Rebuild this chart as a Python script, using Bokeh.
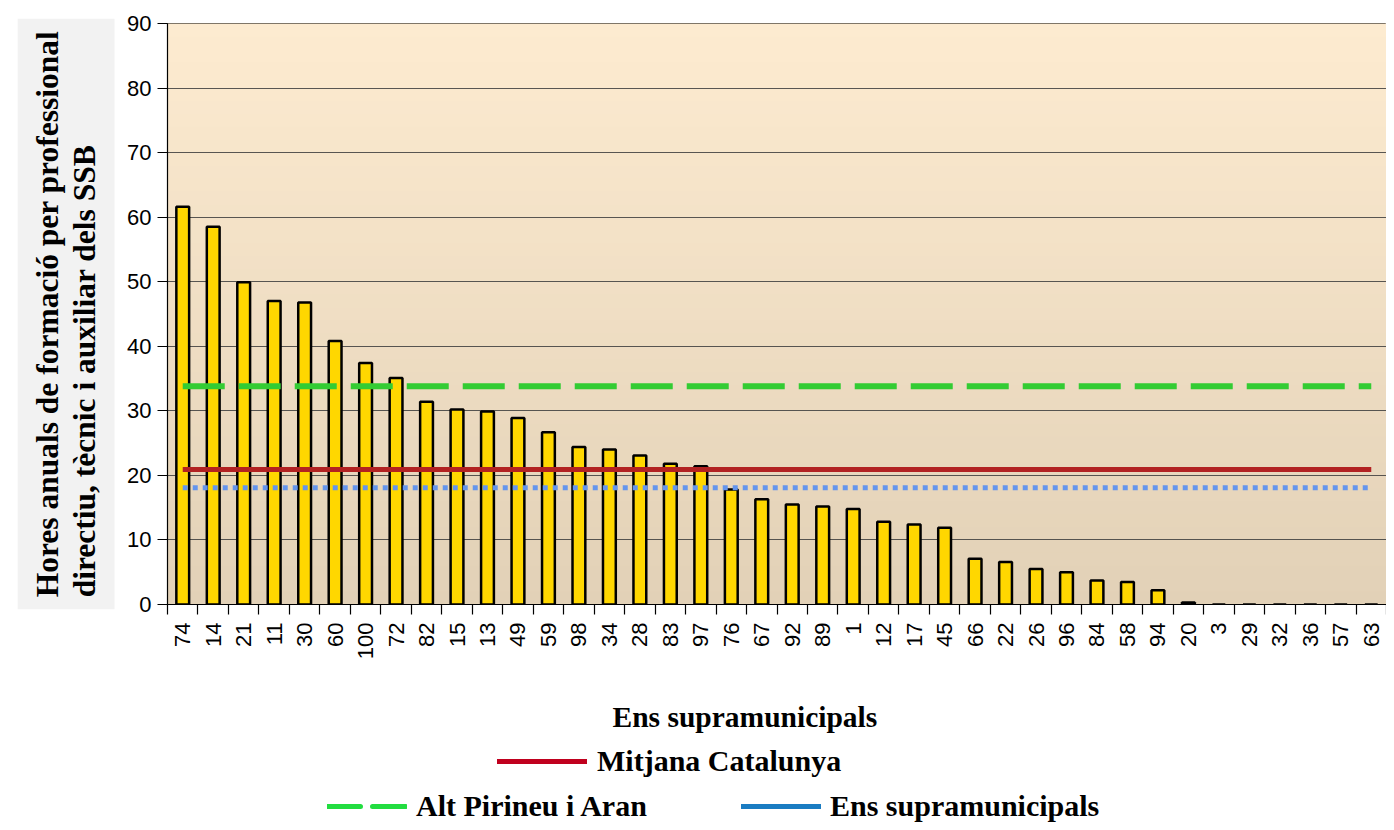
import math
from bokeh.plotting import figure
from bokeh.layouts import column
from bokeh.models import (ColumnDataSource, Range1d, LinearAxis, FixedTicker, Title, Legend,
                          LegendItem, BoxAnnotation, Label)
from bokeh.embed import file_html
from bokeh.resources import INLINE

# ---------------- data ----------------
categories = ["74", "14", "21", "11", "30", "60", "100", "72", "82", "15", "13", "49", "59", "98",
              "34", "28", "83", "97", "76", "67", "92", "89", "1", "12", "17", "45", "66", "22",
              "26", "96", "84", "58", "94", "20", "3", "29", "32", "36", "57", "63"]
values = [61.6, 58.5, 49.9, 47.0, 46.8, 40.8, 37.4, 35.1, 31.4, 30.2, 29.9, 28.9, 26.7, 24.4,
          24.0, 23.1, 21.8, 21.4, 17.8, 16.3, 15.5, 15.2, 14.8, 12.8, 12.4, 11.9, 7.1, 6.6,
          5.5, 5.0, 3.7, 3.5, 2.2, 0.3, 0.0, 0.0, 0.0, 0.0, 0.0, 0.0]
mitjana_catalunya = 20.9
alt_pirineu_aran = 33.8
ens_supramunicipals = 18.1
y_ticks = [0, 10, 20, 30, 40, 50, 60, 70, 80, 90]

y_title = "Hores anuals de formació per professional\ndirectiu, tècnic i auxiliar dels SSB"
x_title = "Ens supramunicipals"
legend_labels = ["Mitjana Catalunya", "Alt Pirineu i Aran", "Ens supramunicipals"]

SERIF = "Liberation Serif"
SANS = "Liberation Sans"

n = len(categories)
pos = list(range(n))                      # category slots
bounds = [i - 0.5 for i in range(n + 1)]  # category boundaries (tick marks)

p = figure(frame_width=1219, frame_height=581, x_range=Range1d(-0.5, n - 0.5),
           y_range=Range1d(0, 90), output_backend="svg", toolbar_location=None,
           x_axis_location=None, min_border_left=167, min_border_top=23,
           min_border_right=0, min_border_bottom=62)
p.background_fill_color = "white"
p.border_fill_color = "white"
p.outline_line_color = "black"
p.outline_line_width = 1

# gradient background (bands)
top_c = (253, 235, 208)
bot_c = (226, 209, 183)
nb = 45
for i in range(nb):
    t = i / (nb - 1)
    c = tuple(int(round(bot_c[k] + (top_c[k] - bot_c[k]) * t)) for k in range(3))
    b0 = 90.0 * i / nb
    b1 = 90.0 * (i + 1) / nb + 0.3
    p.add_layout(BoxAnnotation(bottom=b0, top=b1, fill_color="#%02x%02x%02x" % c,
                               fill_alpha=1.0, line_color=None, level="image"))

# grid
p.xgrid.visible = False
p.ygrid.ticker = FixedTicker(ticks=y_ticks)
p.ygrid.grid_line_color = "#3c3c3c"
p.ygrid.grid_line_width = 1.2
p.ygrid.grid_line_alpha = 0.85

# y axis
ya = p.yaxis[0]
ya.ticker = FixedTicker(ticks=y_ticks)
ya.axis_line_color = "black"
ya.axis_line_width = 1.2
ya.major_tick_out = 10
ya.major_tick_in = 0
ya.major_tick_line_color = "black"
ya.minor_tick_line_color = None
ya.major_label_text_font = SANS
ya.major_label_text_font_size = "22px"
ya.major_label_text_color = "black"
ya.major_label_standoff = 6

# x axis: labels at category centres, tick marks at category boundaries (minor ticks)
xa = LinearAxis(ticker=FixedTicker(ticks=pos, minor_ticks=bounds),
                major_label_overrides={i: c for i, c in zip(pos, categories)},
                major_tick_line_color=None, major_tick_out=10, major_tick_in=0,
                minor_tick_line_color="black", minor_tick_out=10, minor_tick_in=0,
                minor_tick_line_width=1.2,
                axis_line_color="black", axis_line_width=1.2,
                major_label_orientation=math.pi / 2,
                major_label_text_font=SANS, major_label_text_font_size="22px",
                major_label_text_color="black", major_label_standoff=8)
p.add_layout(xa, "below")

# bars
src = ColumnDataSource(dict(x=pos, cat=categories, val=values))
p.vbar(x="x", top="val", width=0.42, source=src, fill_color="#FFD700",
       line_color="black", line_width=2.5)

# reference lines
p.line(x=pos, y=[alt_pirineu_aran] * n, line_color="#33CC33", line_width=6,
       line_dash="42 14")
p.line(x=pos, y=[ens_supramunicipals] * n, line_color="#6495ED", line_width=5,
       line_dash="5 5")
p.line(x=pos, y=[mitjana_catalunya] * n, line_color="#B22222", line_width=5)

# y title in grey box
yt = Title(text=y_title, align="center", text_font=SERIF, text_font_style="bold",
           text_font_size="31.5px", text_line_height=1.08, text_color="black",
           background_fill_color="#F2F2F2", padding=12, standoff=20)
p.add_layout(yt, "left")

# ---------------- x title + legend strip ----------------
LG_H = 160
lg = figure(width=1386, height=LG_H, output_backend="svg", toolbar_location=None,
            x_axis_location=None, y_axis_location=None, min_border=0,
            x_range=Range1d(0, 1), y_range=Range1d(0, 1))
lg.outline_line_color = None
lg.grid.visible = False
lg.background_fill_color = "white"
lg.border_fill_color = "white"

lg.add_layout(Label(x=445, y=LG_H - 50, x_units="screen", y_units="screen", text=x_title,
                    text_font=SERIF, text_font_style="bold", text_font_size="29.5px",
                    text_color="black", text_baseline="middle", text_align="left"))

nan = float("nan")
r_red = lg.line(x=[nan, nan], y=[nan, nan], line_color="#C0001E", line_width=5,
                line_cap="round")
r_green = lg.line(x=[nan, nan], y=[nan, nan], line_color="#22DD40", line_width=5,
                  line_cap="round", line_dash="33 12")
r_blue = lg.line(x=[nan, nan], y=[nan, nan], line_color="#1A7CC2", line_width=5,
                 line_cap="round")

common = dict(orientation="horizontal", background_fill_alpha=0, border_line_color=None,
              padding=0, margin=0, label_text_font=SERIF, label_text_font_style="bold",
              label_text_font_size="30px", label_text_color="black",
              label_text_baseline="middle", glyph_height=30, label_height=30)
leg1 = Legend(items=[LegendItem(label=legend_labels[0], renderers=[r_red])],
              location=(330, 48), glyph_width=90, label_standoff=10, **common)
leg2 = Legend(items=[LegendItem(label=legend_labels[1], renderers=[r_green]),
                     LegendItem(label=legend_labels[2], renderers=[r_blue])],
              location=(160, 3), glyph_width=80, label_standoff=9, spacing=90,
              label_width=235, **common)
lg.add_layout(leg1, "center")
lg.add_layout(leg2, "center")

layout = column(p, lg, spacing=0)
open("out.html", "w").write(file_html(layout, INLINE))
